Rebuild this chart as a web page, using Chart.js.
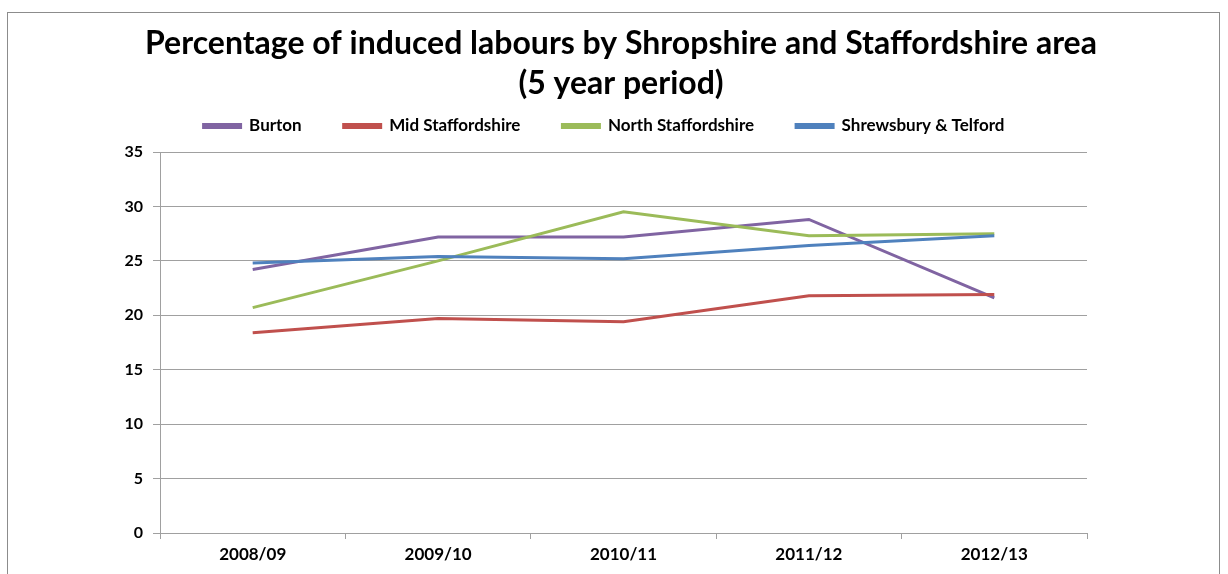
<!DOCTYPE html>
<html>
<head>
<meta charset="utf-8">
<script src="https://cdn.jsdelivr.net/npm/chart.js@4.4.1/dist/chart.umd.min.js"></script>
<style>
  html, body { margin: 0; padding: 0; background: #fff; }
  #wrap { width: 1228px; height: 574px; position: relative; }
</style>
</head>
<body>
<div id="wrap"><canvas id="lineChart" width="1228" height="574"></canvas></div>
<script>
const years = ["2008/09", "2009/10", "2010/11", "2011/12", "2012/13"];
const burton = [24.2, 27.2, 27.2, 28.8, 21.6];
const midStaffs = [18.4, 19.7, 19.4, 21.8, 21.9];
const northStaffs = [20.7, 25.0, 29.5, 27.3, 27.5];
const shrewsbury = [24.8, 25.4, 25.2, 26.4, 27.3];
const yTicks = [0, 5, 10, 15, 20, 25, 30, 35];

const frameBox = {
  id: "frameBox",
  beforeDraw(chart) {
    const ctx = chart.ctx;
    ctx.save();
    ctx.fillStyle = "#fff";
    ctx.fillRect(0, 0, chart.width, chart.height);
    ctx.strokeStyle = "#8c8c8c";
    ctx.lineWidth = 1;
    ctx.strokeRect(7.5, 12.5, 1212, 620);
    ctx.restore();
  },
};

// legend sits closer under the title than its wide item spacing would allow,
// and title / legend are a little off-centre in the original
const boxShift = {
  id: "boxShift",
  afterInit(chart) {
    const lg = chart.legend;
    const fit = lg.fit;
    lg.fit = function () {
      fit.call(this);
      this.height = 44;
    };
    const draw = lg.draw;
    lg.draw = function () {
      const t = this.top, h = this.height, l = this.left;
      this.top = t - 32.5;
      this.height = h + 32.5;
      this.left = l - 20;
      draw.call(this);
      this.top = t;
      this.height = h;
      this.left = l;
    };

    const tb = chart.titleBlock;
    const tdraw = tb.draw;
    tb.draw = function () {
      const l = this.left;
      this.left = l + 14;
      tdraw.call(this);
      this.left = l;
    };
  },
};

function series(label, data, color, order) {
  return {
    label: label,
    data: data,
    borderColor: color,
    backgroundColor: color,
    borderWidth: 3,
    pointRadius: 0,
    tension: 0,
    fill: false,
    order: order,
  };
}

document.addEventListener("DOMContentLoaded", function () {
  const ctx = document.getElementById("lineChart").getContext("2d");
  new Chart(ctx, {
    type: "line",
    data: {
      labels: years,
      datasets: [
        series("Burton", burton, "#8064A2", 4),
        series("Mid Staffordshire", midStaffs, "#C0504D", 3),
        series("North Staffordshire", northStaffs, "#9BBB59", 2),
        series("Shrewsbury & Telford", shrewsbury, "#4F81BD", 1),
      ],
    },
    options: {
      responsive: false,
      animation: false,
      layout: { padding: 0 },
      plugins: {
        title: {
          display: true,
          text: [
            "Percentage of induced labours by Shropshire and Staffordshire area",
            "(5 year period)",
          ],
          color: "#000",
          font: { family: "Lato", size: 32, weight: "bold", lineHeight: 1.25 },
          padding: { top: 24, bottom: 4 },
        },
        legend: {
          position: "top",
          labels: {
            boxWidth: 37,
            boxHeight: 3,
            padding: 42,
            color: "#000",
            font: { family: "Lato", size: 17, weight: "bold" },
            sort: (a, b) => a.datasetIndex - b.datasetIndex,
          },
        },
        tooltip: { enabled: false },
      },
      scales: {
        x: {
          offset: true,
          grid: {
            offset: true,
            drawOnChartArea: false,
            drawTicks: true,
            tickLength: 6,
            color: "#a0a0a0",
          },
          border: { color: "#a0a0a0", width: 1 },
          ticks: {
            color: "#000",
            padding: 5,
            font: { family: "Lato", size: 17, weight: "bold" },
          },
          afterFit: (scale) => { scale.height = 41; },
        },
        y: {
          min: 0,
          max: 35,
          afterBuildTicks: (scale) => {
            scale.ticks = yTicks.map((v) => ({ value: v }));
          },
          grid: {
            color: "#a0a0a0",
            tickLength: 7,
          },
          border: { color: "#a0a0a0", width: 1 },
          ticks: {
            color: "#000",
            padding: 10,
            font: { family: "Lato", size: 16, weight: "bold" },
          },
          afterFit: (scale) => { scale.width = 160; },
        },
        spacer: {
          position: "right",
          min: 0,
          max: 35,
          grid: { drawOnChartArea: false, drawTicks: false },
          border: { display: false },
          ticks: { display: false },
          afterFit: (scale) => { scale.width = 141; },
        },
      },
    },
    plugins: [frameBox, boxShift],
  });
});
</script>
</body>
</html>
